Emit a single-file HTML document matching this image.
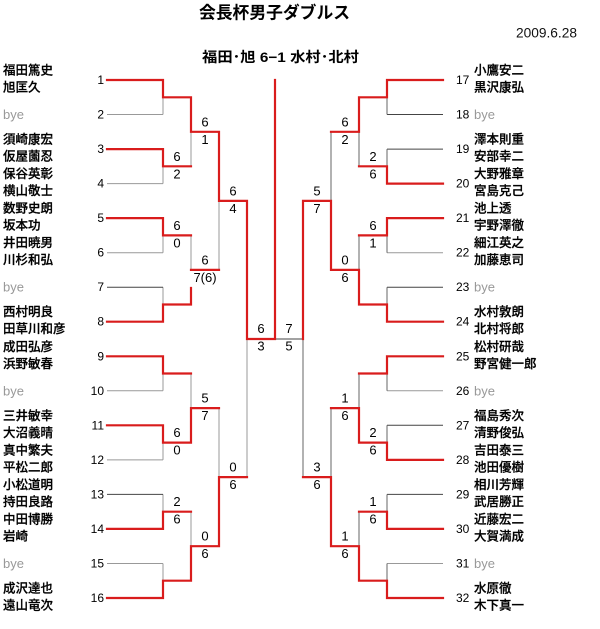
<!DOCTYPE html>
<html>
<head>
<meta charset="utf-8">
<style>
html,body{margin:0;padding:0;background:#fff;}
body{width:600px;height:629px;overflow:hidden;}
svg{display:block;}
.t{font-family:"Liberation Sans","Noto Sans CJK JP",sans-serif;font-weight:bold;font-size:17px;}
.st{font-family:"Liberation Sans","Noto Sans CJK JP",sans-serif;font-weight:bold;font-size:14px;}
.d{font-family:"Liberation Sans",sans-serif;font-size:13.5px;fill:#111;}
.n{font-family:"Liberation Sans","Noto Sans CJK JP",sans-serif;font-size:12.5px;font-weight:500;fill:#000;stroke:#000;stroke-width:0.25;}
.b{font-family:"Liberation Sans",sans-serif;font-size:13px;fill:#999;}
.no{font-family:"Liberation Sans",sans-serif;font-size:12px;fill:#000;}
.s{font-family:"Liberation Sans",sans-serif;font-size:13px;fill:#000;}
.r{fill:none;stroke:#d91c1c;stroke-width:2.2;stroke-linecap:square;stroke-linejoin:miter;}
.g{stroke:#999;stroke-width:1;fill:none;}
.k{stroke:#444;stroke-width:1;fill:none;}
.gr{stroke:#666;stroke-width:1;fill:none;}
</style>
</head>
<body>
<svg width="600" height="629" viewBox="0 0 600 629" xmlns="http://www.w3.org/2000/svg">
<text class="t" x="199" y="13" dominant-baseline="central" textLength="151" lengthAdjust="spacingAndGlyphs">会長杯男子ダブルス</text>
<text class="d" x="516" y="33" dominant-baseline="central" textLength="61" lengthAdjust="spacingAndGlyphs">2009.6.28</text>
<text class="st" x="202" y="57" dominant-baseline="central" textLength="157" lengthAdjust="spacingAndGlyphs">福田･旭 6−1 水村･北村</text>

<g class="g">
<line x1="107" y1="114.5" x2="163" y2="114.5"/>
<line x1="107" y1="183.6" x2="163" y2="183.6"/>
<line x1="107" y1="252.7" x2="163" y2="252.7"/>
<line x1="107" y1="390.8" x2="163" y2="390.8"/>
<line x1="107" y1="459.9" x2="163" y2="459.9"/>
<line x1="107" y1="563.5" x2="163" y2="563.5"/>
<line x1="163" y1="97.3" x2="163" y2="114.5"/>
<line x1="163" y1="166.3" x2="163" y2="183.6"/>
<line x1="163" y1="235.4" x2="163" y2="252.7"/>
<line x1="163" y1="287.2" x2="163" y2="304.5"/>
<line x1="163" y1="373.5" x2="163" y2="390.8"/>
<line x1="163" y1="442.6" x2="163" y2="459.9"/>
<line x1="163" y1="494.4" x2="163" y2="511.7"/>
<line x1="163" y1="563.5" x2="163" y2="580.7"/>
<line x1="191" y1="131.8" x2="191" y2="166.3"/>
<line x1="191" y1="235.4" x2="191" y2="269.9"/>
<line x1="191" y1="373.5" x2="191" y2="408.1"/>
<line x1="191" y1="511.7" x2="191" y2="546.2"/>
<line x1="219" y1="200.9" x2="219" y2="269.9"/>
<line x1="219" y1="408.1" x2="219" y2="477.1"/>
<line x1="247" y1="339" x2="247" y2="477.1"/>
</g>
<g class="k">
<line x1="107" y1="287.2" x2="163" y2="287.2"/>
<line x1="107" y1="494.4" x2="163" y2="494.4"/>
</g>

<g class="k">
<line x1="387" y1="114.5" x2="443" y2="114.5"/>
<line x1="387" y1="149.1" x2="443" y2="149.1"/>
<line x1="387" y1="287.2" x2="443" y2="287.2"/>
<line x1="387" y1="425.3" x2="443" y2="425.3"/>
<line x1="387" y1="494.4" x2="443" y2="494.4"/>
<line x1="275" y1="339" x2="303" y2="339"/>
</g>
<g class="g">
<line x1="387" y1="252.7" x2="443" y2="252.7"/>
<line x1="387" y1="390.8" x2="443" y2="390.8"/>
<line x1="387" y1="563.5" x2="443" y2="563.5"/>
</g>
<g class="gr">
<line x1="387" y1="97.3" x2="387" y2="114.5"/>
<line x1="387" y1="149.1" x2="387" y2="166.3"/>
<line x1="387" y1="235.4" x2="387" y2="252.7"/>
<line x1="387" y1="287.2" x2="387" y2="304.5"/>
<line x1="387" y1="373.5" x2="387" y2="390.8"/>
<line x1="387" y1="425.3" x2="387" y2="442.6"/>
<line x1="387" y1="494.4" x2="387" y2="511.7"/>
<line x1="387" y1="563.5" x2="387" y2="580.7"/>
<line x1="359" y1="131.8" x2="359" y2="166.3"/>
<line x1="359" y1="235.4" x2="359" y2="269.9"/>
<line x1="359" y1="373.5" x2="359" y2="408.1"/>
<line x1="359" y1="511.7" x2="359" y2="546.2"/>
<line x1="331" y1="131.8" x2="331" y2="200.9"/>
<line x1="331" y1="408.1" x2="331" y2="477.1"/>
<line x1="303" y1="339" x2="303" y2="477.1"/>
</g>

<path class="r" d="M107 80 H163 V97.3 H191 V131.8 H219 V200.9 H247 V339 H275 V80"/>
<path class="r" d="M107 149.1 H163 V166.3 H191"/>
<path class="r" d="M107 218.1 H163 V235.4 H191"/>
<path class="r" d="M107 321.7 H163 V304.5 H191 V288"/>
<path class="r" d="M191 269.9 H219"/>
<path class="r" d="M107 356.3 H163 V373.5 H191"/>
<path class="r" d="M107 425.3 H163 V442.6 H191 V408.1 H219"/>
<path class="r" d="M107 528.9 H163 V511.7 H191"/>
<path class="r" d="M107 598 H163 V580.7 H191 V546.2 H219 V477.1 H247"/>

<path class="r" d="M443 80 H387 V97.3 H359 V131.8 H331"/>
<path class="r" d="M443 183.6 H387 V166.3 H359"/>
<path class="r" d="M443 218.1 H387 V235.4 H359"/>
<path class="r" d="M443 321.7 H387 V304.5 H359 V269.9 H331 V200.9 H303 V339"/>
<path class="r" d="M443 356.3 H387 V373.5 H359"/>
<path class="r" d="M443 459.9 H387 V442.6 H359 V408.1 H331"/>
<path class="r" d="M443 528.9 H387 V511.7 H359"/>
<path class="r" d="M443 598 H387 V580.7 H359 V546.2 H331 V477.1 H303"/>

<g class="no" text-anchor="end" dominant-baseline="central">
<text x="104" y="80">1</text>
<text x="104" y="114.5">2</text>
<text x="104" y="149.1">3</text>
<text x="104" y="183.6">4</text>
<text x="104" y="218.1">5</text>
<text x="104" y="252.7">6</text>
<text x="104" y="287.2">7</text>
<text x="104" y="321.7">8</text>
<text x="104" y="356.3">9</text>
<text x="104" y="390.8">10</text>
<text x="104" y="425.3">11</text>
<text x="104" y="459.9">12</text>
<text x="104" y="494.4">13</text>
<text x="104" y="528.9">14</text>
<text x="104" y="563.5">15</text>
<text x="104" y="598">16</text>
</g>
<g class="no" dominant-baseline="central">
<text x="456" y="80">17</text>
<text x="456" y="114.5">18</text>
<text x="456" y="149.1">19</text>
<text x="456" y="183.6">20</text>
<text x="456" y="218.1">21</text>
<text x="456" y="252.7">22</text>
<text x="456" y="287.2">23</text>
<text x="456" y="321.7">24</text>
<text x="456" y="356.3">25</text>
<text x="456" y="390.8">26</text>
<text x="456" y="425.3">27</text>
<text x="456" y="459.9">28</text>
<text x="456" y="494.4">29</text>
<text x="456" y="528.9">30</text>
<text x="456" y="563.5">31</text>
<text x="456" y="598">32</text>
</g>

<g class="n" dominant-baseline="central">
<text x="3" y="70.5">福田篤史</text>
<text x="3" y="87.5">旭匡久</text>
<text x="3" y="139.6">須崎康宏</text>
<text x="3" y="156.6">仮屋薗忍</text>
<text x="3" y="174.1">保谷英彰</text>
<text x="3" y="191.1">横山敬士</text>
<text x="3" y="208.6">数野史朗</text>
<text x="3" y="225.6">坂本功</text>
<text x="3" y="243.2">井田暁男</text>
<text x="3" y="260.2">川杉和弘</text>
<text x="3" y="312.2">西村明良</text>
<text x="3" y="329.2">田草川和彦</text>
<text x="3" y="346.8">成田弘彦</text>
<text x="3" y="363.8">浜野敏春</text>
<text x="3" y="415.8">三井敏幸</text>
<text x="3" y="432.8">大沼義晴</text>
<text x="3" y="450.4">真中繁夫</text>
<text x="3" y="467.4">平松二郎</text>
<text x="3" y="484.9">小松道明</text>
<text x="3" y="501.9">持田良路</text>
<text x="3" y="519.4">中田博勝</text>
<text x="3" y="536.4">岩崎</text>
<text x="3" y="588.5">成沢達也</text>
<text x="3" y="605.5">遠山竜次</text>
</g>
<g class="b" dominant-baseline="central">
<text x="3" y="114.5">bye</text>
<text x="3" y="287.2">bye</text>
<text x="3" y="390.8">bye</text>
<text x="3" y="563.5">bye</text>
<text x="474" y="114.5">bye</text>
<text x="474" y="287.2">bye</text>
<text x="474" y="390.8">bye</text>
<text x="474" y="563.5">bye</text>
</g>
<g class="n" dominant-baseline="central">
<text x="474" y="70.5">小鷹安二</text>
<text x="474" y="87.5">黒沢康弘</text>
<text x="474" y="139.6">澤本則重</text>
<text x="474" y="156.6">安部幸二</text>
<text x="474" y="174.1">大野雅章</text>
<text x="474" y="191.1">宮島克己</text>
<text x="474" y="208.6">池上透</text>
<text x="474" y="225.6">宇野澤徹</text>
<text x="474" y="243.2">細江英之</text>
<text x="474" y="260.2">加藤恵司</text>
<text x="474" y="312.2">水村敦朗</text>
<text x="474" y="329.2">北村将郎</text>
<text x="474" y="346.8">松村研哉</text>
<text x="474" y="363.8">野宮健一郎</text>
<text x="474" y="415.8">福島秀次</text>
<text x="474" y="432.8">清野俊弘</text>
<text x="474" y="450.4">吉田泰三</text>
<text x="474" y="467.4">池田優樹</text>
<text x="474" y="484.9">相川芳輝</text>
<text x="474" y="501.9">武居勝正</text>
<text x="474" y="519.4">近藤宏二</text>
<text x="474" y="536.4">大賀満成</text>
<text x="474" y="588.5">水原徹</text>
<text x="474" y="605.5">木下真一</text>
</g>

<g class="s" text-anchor="middle" dominant-baseline="central">
<text x="177" y="156.3">6</text><text x="177" y="173.8">2</text>
<text x="177" y="225.4">6</text><text x="177" y="242.9">0</text>
<text x="177" y="432.6">6</text><text x="177" y="450.1">0</text>
<text x="177" y="501.7">2</text><text x="177" y="519.2">6</text>
<text x="205" y="121.8">6</text><text x="205" y="139.3">1</text>
<text x="205" y="259.9">6</text><text x="205" y="277.4">7(6)</text>
<text x="205" y="398.1">5</text><text x="205" y="415.6">7</text>
<text x="205" y="536.2">0</text><text x="205" y="553.7">6</text>
<text x="233" y="190.9">6</text><text x="233" y="208.4">4</text>
<text x="233" y="467.1">0</text><text x="233" y="484.6">6</text>
<text x="261" y="328.5">6</text><text x="261" y="346">3</text>
<text x="289" y="328.5">7</text><text x="289" y="346">5</text>
<text x="317" y="190.9">5</text><text x="317" y="208.4">7</text>
<text x="317" y="467.1">3</text><text x="317" y="484.6">6</text>
<text x="345" y="121.8">6</text><text x="345" y="139.3">2</text>
<text x="345" y="259.9">0</text><text x="345" y="277.4">6</text>
<text x="345" y="398.1">1</text><text x="345" y="415.6">6</text>
<text x="345" y="536.2">1</text><text x="345" y="553.7">6</text>
<text x="373" y="156.3">2</text><text x="373" y="173.8">6</text>
<text x="373" y="225.4">6</text><text x="373" y="242.9">1</text>
<text x="373" y="432.6">2</text><text x="373" y="450.1">6</text>
<text x="373" y="501.7">1</text><text x="373" y="519.2">6</text>
</g>
</svg>
</body>
</html>
